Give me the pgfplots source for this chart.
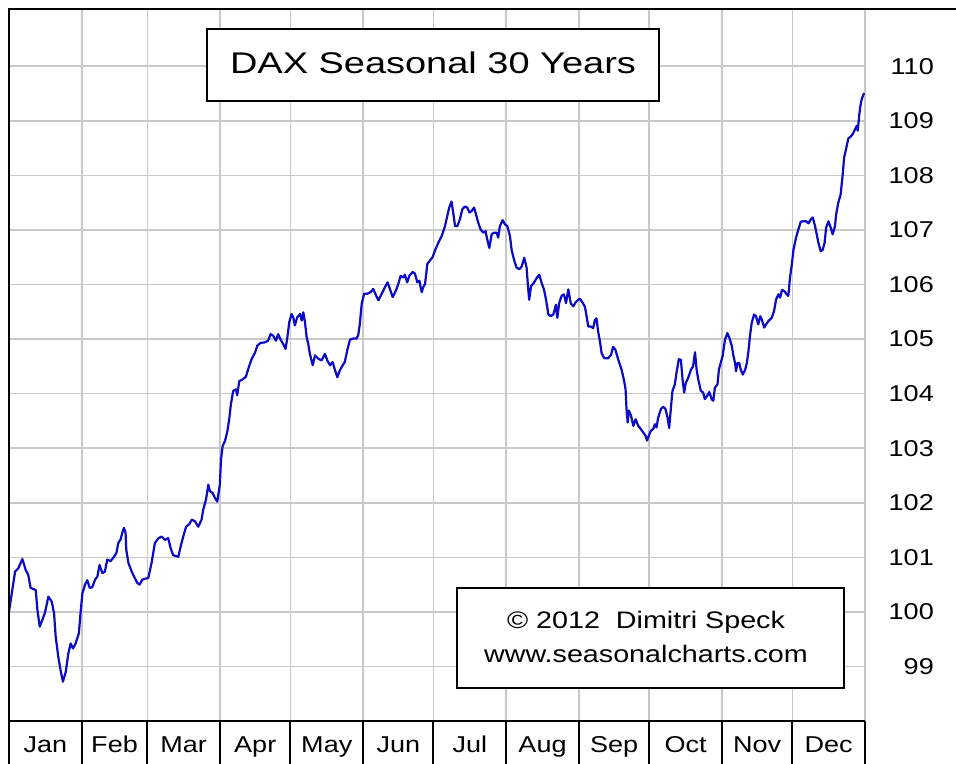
\documentclass[border=0pt]{standalone}
\usepackage{fontspec}
\setmainfont{Liberation Sans}
\newfontfamily\titlefont[FakeStretch=1.27]{Liberation Sans}
\newfontfamily\wfont[FakeStretch=1.18]{Liberation Sans}
\newfontfamily\cfont[FakeStretch=1.2]{Liberation Sans}
\usepackage{pgfplots}
\pgfplotsset{compat=1.18}
\definecolor{lineblue}{RGB}{10,10,200}
\definecolor{gridgray}{RGB}{200,200,200}

\pgfplotstableread{
day value
0 100.00
1.4 100.40
2.6 100.74
4.0 100.80
5.7 100.97
7.1 100.77
8.2 100.68
9.2 100.44
11.4 100.40
12.1 100.04
13.1 99.73
14.2 99.85
15.3 99.98
16.8 100.28
18.2 100.19
19.2 99.98
19.9 99.55
21.0 99.18
22.0 98.93
23.0 98.72
24.2 98.90
25.3 99.24
26.3 99.42
27.3 99.33
28.4 99.42
29.8 99.61
30.5 99.98
31.3 100.34
32.4 100.50
33.4 100.58
34.4 100.44
35.5 100.45
36.7 100.59
37.7 100.65
38.6 100.86
39.8 100.71
40.9 100.74
41.9 100.96
43.3 100.93
44.8 101.01
45.8 101.08
46.6 101.26
47.6 101.33
48.3 101.45
49.0 101.54
49.7 101.45
50.0 101.14
50.9 100.90
52.3 100.74
53.3 100.65
54.7 100.53
55.7 100.50
56.8 100.59
58.3 100.61
59.4 100.62
60.8 100.90
62.2 101.26
63.7 101.35
65.1 101.38
66.5 101.32
67.9 101.35
68.9 101.17
70.0 101.04
72.2 101.01
73.2 101.20
74.3 101.38
75.5 101.56
76.9 101.61
77.9 101.69
79.3 101.66
80.7 101.56
82.1 101.69
82.8 101.87
84.0 102.06
85.0 102.33
85.7 102.21
86.8 102.18
87.8 102.09
88.8 102.02
89.9 102.33
90.4 102.79
91.1 103.04
92.1 103.13
93.1 103.31
93.9 103.53
94.6 103.80
95.6 104.05
96.8 104.08
97.3 103.97
98.2 104.23
99.6 104.26
101.0 104.31
102.0 104.45
103.4 104.63
104.9 104.75
105.9 104.88
107.3 104.93
109.1 104.94
110.5 104.97
111.5 105.09
112.7 105.06
113.8 104.97
114.8 105.09
115.8 104.99
116.9 104.91
117.9 104.82
118.6 105.00
119.5 105.31
120.5 105.46
121.2 105.40
121.9 105.25
122.9 105.40
124.1 105.46
124.8 105.34
125.5 105.49
126.2 105.31
126.9 105.04
127.6 104.91
128.3 104.73
129.5 104.52
130.5 104.70
131.9 104.64
133.3 104.61
134.7 104.73
135.7 104.61
136.9 104.52
138.0 104.58
139.0 104.43
140.0 104.30
141.1 104.43
142.3 104.52
143.2 104.58
144.2 104.79
145.4 104.99
146.8 105.01
148.2 105.01
148.9 105.07
149.6 105.28
150.4 105.65
151.4 105.83
152.8 105.83
154.2 105.86
155.3 105.92
156.5 105.80
157.5 105.71
158.9 105.83
160.3 105.95
161.4 106.04
162.4 105.92
163.6 105.77
165.0 105.89
166.0 106.01
167.0 106.16
168.1 106.13
168.8 106.18
169.8 106.04
170.7 106.16
172.1 106.23
173.1 106.20
174.1 106.04
175.0 106.07
175.5 105.95
176.0 105.86
176.6 105.95
177.4 106.01
177.8 106.16
178.4 106.38
179.5 106.44
180.6 106.50
181.6 106.62
183.1 106.77
184.5 106.89
185.9 107.07
186.9 107.26
187.7 107.41
188.7 107.52
189.4 107.32
190.2 107.07
191.2 107.07
192.3 107.20
193.3 107.38
194.4 107.43
195.4 107.41
196.3 107.32
197.3 107.35
198.3 107.41
199.1 107.29
200.1 107.13
201.1 107.01
202.2 106.95
203.2 106.98
203.9 106.83
204.8 106.67
205.8 106.92
206.8 106.95
207.9 106.95
208.6 106.86
209.3 107.07
210.5 107.18
211.5 107.10
212.5 107.07
213.6 106.89
214.3 106.64
215.3 106.46
216.4 106.31
217.6 106.28
218.6 106.33
219.7 106.49
220.7 106.31
221.4 105.91
221.8 105.72
222.6 105.97
223.8 106.03
225.0 106.12
226.1 106.18
227.1 106.03
228.1 105.91
229.0 105.72
230.0 105.45
231.0 105.42
232.1 105.45
233.2 105.63
233.8 105.39
234.6 105.66
235.6 105.79
236.6 105.82
237.5 105.66
238.5 105.91
239.5 105.66
240.6 105.60
241.7 105.68
242.4 105.71
243.4 105.74
244.4 105.68
245.6 105.59
246.3 105.41
247.0 105.23
248.1 105.23
249.1 105.20
249.8 105.35
250.5 105.38
251.2 105.14
252.0 104.95
252.7 104.74
253.8 104.65
255.5 104.65
256.7 104.71
257.6 104.86
258.6 104.80
259.8 104.62
261.2 104.44
262.3 104.23
262.9 104.08
263.3 103.72
263.8 103.47
264.3 103.69
265.2 103.60
266.2 103.41
267.2 103.53
268.3 103.41
269.4 103.35
270.4 103.29
271.4 103.23
272.1 103.14
272.8 103.23
273.7 103.32
274.7 103.35
275.4 103.44
276.1 103.38
276.8 103.56
278.0 103.72
278.9 103.76
279.9 103.72
280.8 103.56
281.5 103.37
282.2 103.72
282.9 104.05
283.9 104.17
284.6 104.38
285.6 104.63
286.5 104.62
287.2 104.26
287.9 104.02
288.6 104.20
289.6 104.29
290.8 104.44
291.7 104.50
292.5 104.76
293.2 104.44
293.9 104.26
295.0 104.05
296.0 104.02
296.7 103.90
297.7 103.96
298.6 104.03
299.6 103.90
300.3 103.87
301.0 104.11
302.1 104.17
302.7 104.44
303.5 104.57
304.3 104.69
305.3 104.99
306.3 105.11
307.2 105.02
308.2 104.87
308.9 104.69
309.6 104.56
310.0 104.41
310.6 104.56
311.4 104.56
312.0 104.44
312.9 104.35
313.9 104.44
314.6 104.56
315.3 104.78
316.0 105.08
316.7 105.30
317.7 105.45
318.5 105.42
319.5 105.27
320.3 105.42
321.0 105.36
322.0 105.21
322.8 105.27
323.8 105.33
325.2 105.39
326.2 105.51
327.1 105.73
328.1 105.82
328.8 105.76
329.6 105.90
330.6 105.88
331.6 105.82
332.3 105.79
333.0 106.12
333.8 106.37
334.5 106.64
335.6 106.86
336.6 107.01
337.6 107.15
338.7 107.16
339.9 107.16
340.9 107.12
341.8 107.19
342.7 107.23
343.7 107.07
344.4 106.92
345.1 106.77
346.1 106.61
347.0 106.64
347.8 106.77
348.4 107.04
349.4 107.16
350.4 107.04
351.2 106.92
352.2 107.07
352.7 107.29
353.6 107.50
354.6 107.65
355.5 108.02
356.1 108.33
356.9 108.48
357.9 108.68
358.9 108.71
359.8 108.76
360.8 108.85
361.5 108.91
361.9 108.82
362.5 109.09
362.9 109.24
363.6 109.40
364.6 109.51
}\daxdata

\begin{document}
\begin{tikzpicture}[x=1bp,y=1bp]
\useasboundingbox (-9,-43) rectangle (947,721);
\begin{axis}[
  at={(0,0)}, anchor=south west,
  scale only axis, width=856bp, height=712bp,
  xmin=0, xmax=365, ymin=98, ymax=111.05,
  axis line style={draw=none},
  xtick={0,31,59,90,120,151,181,212,243,273,304,334,365},
  xticklabels={,,,,,,,,,,,,},
  ytick={99,100,101,102,103,104,105,106,107,108,109,110},
  yticklabel pos=right,
  grid=major,
  major grid style={gridgray, line width=1.6bp},
  major tick length=0pt,
  /pgf/number format/assume math mode=true,
  yticklabel style={font=\wfont\fontsize{23}{23}\selectfont, anchor=east, xshift=69bp, inner sep=0pt},
  extra x ticks={15.5,45,74.5,105,135.5,166,196.5,227.5,258,288.5,319,349.5},
  extra x tick labels={Jan,Feb,Mar,Apr,May,Jun,Jul,Aug,Sep,Oct,Nov,Dec},
  extra x tick style={grid=none, major tick length=0pt,
    xticklabel style={font=\wfont\fontsize{23}{23}\selectfont, anchor=base, yshift=-32bp, inner sep=0pt}},
]
\addplot[lineblue, line width=2.2bp, line join=round] table[x=day, y=value] {\daxdata};
\end{axis}
% frame
\draw[line width=2bp] (0,-43) -- (0,712) -- (947,712);
\draw[line width=2bp] (0,0) -- (856,0);
\foreach \xx in {72.70,138.37,211.07,281.42,354.12,424.47,497.18,569.88,640.23,712.93,783.29,856}
  \draw[line width=2bp] (\xx,0) -- ++(0,-43);
% title box
\draw[line width=1.5bp, fill=white] (198,620) rectangle (650,692);
\node[anchor=base, inner sep=0pt] at (424,647) {\titlefont\fontsize{30}{30}\selectfont DAX Seasonal 30 Years};
% credit box
\draw[line width=1.5bp, fill=white] (448,33) rectangle (835,133);
\node[anchor=base, inner sep=0pt] at (637,92) {\cfont\fontsize{24}{24}\selectfont \char"00A9\ 2012\ \ Dimitri Speck};
\node[anchor=base, inner sep=0pt] at (637,58) {\cfont\fontsize{24}{24}\selectfont www.seasonalcharts.com};
\end{tikzpicture}
\end{document}
